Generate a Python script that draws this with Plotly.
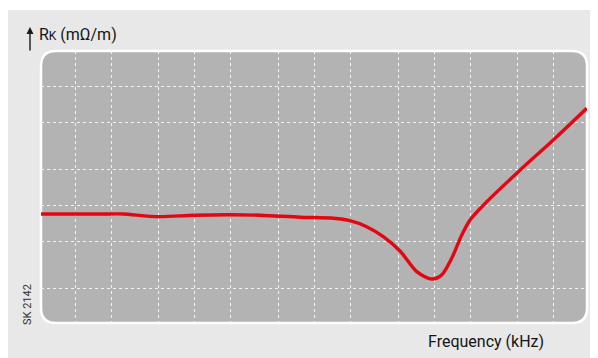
import plotly.graph_objects as go

# Data (log-log axes)
freq_khz = [0.52, 1.96, 2.52, 4.97, 9.73, 19.7, 35.1, 75.8, 144, 198, 273, 376,
            519, 716, 955, 1158, 1403, 1702, 1995, 2750, 5055, 9900, 18830]
rk_mohm = [8.45, 8.45, 8.45, 8.02, 8.24, 8.33, 8.24, 7.93, 7.77, 7.42, 6.60, 5.44,
           4.12, 2.76, 2.39, 2.59, 3.58, 5.62, 7.52, 10.7, 19.2, 35.5, 65.6]
grid_vals_x = [1, 2, 5, 10, 20, 50, 100, 200, 500, 1000, 2000, 5000, 10000]
grid_vals_y = [2, 5, 10, 20, 50, 100]

# The page body has an 8px margin, so the figure is placed at (8, 8)
OFF = 8
W, H = 598 - OFF, 358 - OFF
L, T = 41 - OFF, 51 - OFF
R = W - (587 - OFF)
B = H - (323 - OFF)
pw, ph = W - L - R, H - T - B

def px(x):
    return (x - OFF - L) / pw

def py(y):
    return (H - B - (y - OFF)) / ph

fig = go.Figure()
fig.add_trace(go.Scatter(
    x=freq_khz, y=rk_mohm, mode="lines",
    line=dict(color="#e30613", width=3.4, shape="spline", smoothing=0.8),
    hoverinfo="skip", showlegend=False))

rx, ry = 15 / pw, 15 / ph
path = (f"M {rx},0 L {1-rx},0 Q 1,0 1,{ry} L 1,{1-ry} Q 1,1 {1-rx},1 "
        f"L {rx},1 Q 0,1 0,{1-ry} L 0,{ry} Q 0,0 {rx},0 Z")

shapes = [
    dict(type="rect", xref="paper", yref="paper", x0=px(0), x1=px(610),
         y0=py(370), y1=py(10), fillcolor="#e8e8e8", line=dict(width=0), layer="below"),
    dict(type="path", xref="paper", yref="paper", path=path,
         fillcolor="#b2b3b2", line=dict(color="white", width=2.5), layer="below"),
]

annotations = [
    dict(xref="paper", yref="paper", x=px(30), y=py(27), ax=0, ay=25,
         axref="pixel", ayref="pixel", text="", showarrow=True,
         arrowhead=2, arrowsize=1, arrowwidth=1.4, arrowcolor="#1a1a1a"),
    dict(xref="paper", yref="paper", x=px(37), y=py(34), xanchor="left", yanchor="middle",
         text="R<span style='font-size:12px'>K</span> (mΩ/m)", showarrow=False,
         font=dict(family="Roboto", size=16, color="#151515")),
    dict(xref="paper", yref="paper", x=px(486), y=py(341), xanchor="center", yanchor="middle",
         text="Frequency (kHz)", showarrow=False,
         font=dict(family="Roboto", size=16, color="#151515")),
    dict(xref="paper", yref="paper", x=px(27), y=py(305), xanchor="center", yanchor="middle",
         text="SK 2142", textangle=-90, showarrow=False,
         font=dict(family="Roboto", size=11, color="#333333")),
]

axis_common = dict(showticklabels=False, ticks="", showline=False, zeroline=False,
                   showgrid=True, gridcolor="rgba(245,245,245,0.95)", gridwidth=1,
                   griddash="3px,3px", fixedrange=True)

fig.update_layout(
    width=W, height=H, margin=dict(l=L, r=R, t=T, b=B),
    paper_bgcolor="white", plot_bgcolor="rgba(0,0,0,0)",
    xaxis=dict(type="log", range=[-0.284, 4.277], tickvals=grid_vals_x, **axis_common),
    yaxis=dict(type="log", range=[0.008, 2.30], tickvals=grid_vals_y, **axis_common),
    shapes=shapes, annotations=annotations, showlegend=False,
)

fig.write_html("out.html")
